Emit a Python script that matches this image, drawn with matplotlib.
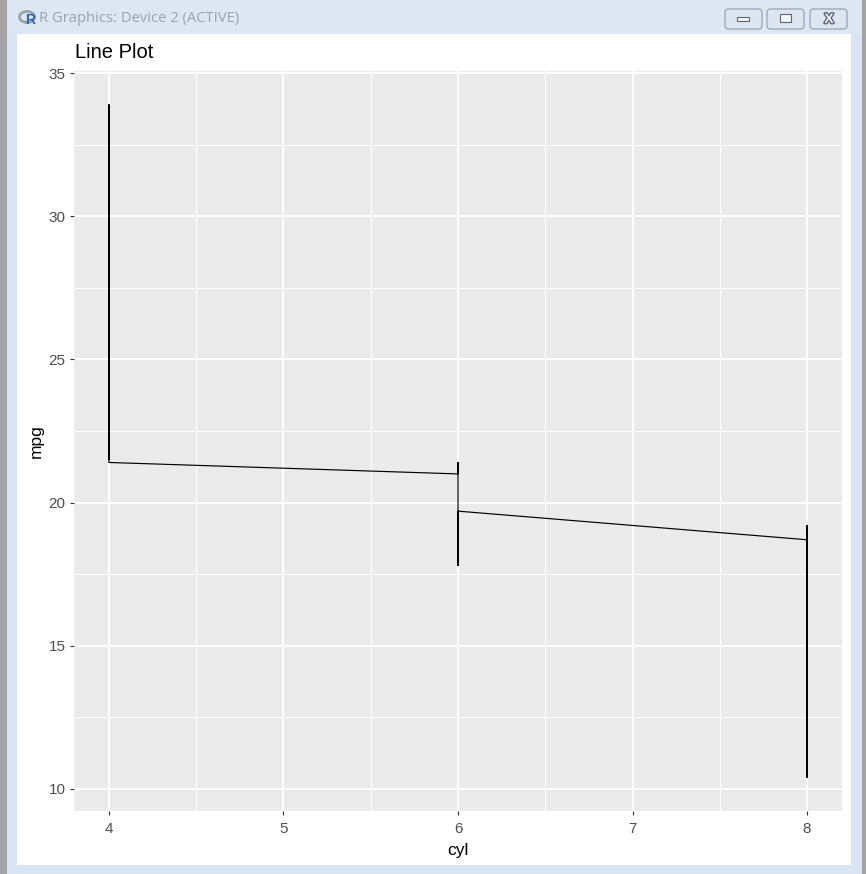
import numpy as np
import matplotlib
matplotlib.use("Agg")
import matplotlib.pyplot as plt
import matplotlib.patheffects as pe
from matplotlib.patches import Rectangle, FancyBboxPatch, Ellipse
from matplotlib.ticker import MultipleLocator

# mtcars, in dataset row order
cyl = [6, 6, 4, 6, 8, 6, 8, 4, 4, 6, 6, 8, 8, 8, 8, 8, 8, 4, 4, 4, 4, 8, 8, 8, 8, 4, 4, 4, 8, 6, 8, 4]
mpg = [21.0, 21.0, 22.8, 21.4, 18.7, 18.1, 14.3, 24.4, 22.8, 19.2, 17.8, 16.4, 17.3, 15.2, 10.4, 10.4,
       14.7, 32.4, 30.4, 33.9, 21.5, 15.5, 15.2, 13.3, 19.2, 27.3, 26.0, 30.4, 15.8, 19.7, 15.0, 21.4]

x_ticks = [4, 5, 6, 7, 8]
y_ticks = [10, 15, 20, 25, 30, 35]

W, H = 866, 874
plt.rcParams['font.family'] = ['Liberation Sans', 'DejaVu Sans']

fig = plt.figure(figsize=(W / 100, H / 100), dpi=100)
fig.patch.set_facecolor('white')


def px_rect(x, y, w, h, color, **kw):
    # rectangle given in screenshot pixels (top-left origin)
    r = Rectangle((x / W, 1 - (y + h) / H), w / W, h / H, transform=fig.transFigure,
                  facecolor=color, edgecolor='none', zorder=-5, **kw)
    fig.patches.append(r)
    return r


# window chrome
px_rect(0, 0, W, H, '#d9e5f2')
px_rect(0, 0, W, 34, '#dce7f3')
px_rect(0, 0, 7, H, '#a3a3a3')
px_rect(862, 0, 4, H, '#a3a3a3')
px_rect(17, 34, 834, 831, 'white')

for bx in [725, 767, 810]:
    b = FancyBboxPatch((bx / W, 1 - 29 / H), 37 / W, 20 / H, boxstyle='round,pad=0,rounding_size=0.004',
                       transform=fig.transFigure, facecolor='#dde6f0', edgecolor='#8d9bb0', lw=0.8)
    fig.patches.append(b)
fig.patches.append(Rectangle((737 / W, 1 - 21 / H), 12 / W, 4 / H, transform=fig.transFigure,
                             facecolor='#f4f6f9', edgecolor='#5b6678', lw=0.8))
fig.patches.append(Rectangle((780 / W, 1 - 22 / H), 11 / W, 8 / H, transform=fig.transFigure,
                             facecolor='#f4f6f9', edgecolor='#5b6678', lw=0.8))
fig.text(829 / W, 1 - 19 / H, 'X', ha='center', va='center', fontsize=10, fontweight='bold',
         color='#eef2f7', path_effects=[pe.withStroke(linewidth=2, foreground='#5b6678')])
fig.patches.append(Ellipse((27 / W, 1 - 17 / H), 15 / W, 11 / H, transform=fig.transFigure,
                           facecolor='none', edgecolor='#9aa0a8', lw=2.0))
fig.text(30 / W, 1 - 20 / H, 'R', ha='center', va='center', fontsize=10, fontweight='bold', color='#2b63b5')
fig.text(39 / W, 1 - 19 / H, 'R Graphics: Device 2 (ACTIVE)', ha='left', va='center',
         fontsize=10.6, color='#9aa3ad', family=['Open Sans', 'DejaVu Sans'])

# plot panel
ax = fig.add_axes([74 / W, 1 - 811 / H, 768 / W, 740 / H])
ax.set_facecolor('#ebebeb')
for s in ax.spines.values():
    s.set_visible(False)

# geom_line: stable sort on x
order = np.argsort(np.array(cyl), kind='stable')
xs = np.array(cyl)[order]
ys = np.array(mpg)[order]
ax.plot(xs, ys, color='black', lw=0.85, zorder=3)

ax.set_xlim(3.8, 8.2)
ax.set_ylim(9.225, 35.075)
ax.set_xticks(x_ticks)
ax.set_yticks(y_ticks)
ax.xaxis.set_minor_locator(MultipleLocator(0.5))
ax.yaxis.set_minor_locator(MultipleLocator(2.5))
ax.grid(which='major', color='white', lw=1.3)
ax.grid(which='minor', color='white', lw=0.65)
ax.set_axisbelow(True)
ax.tick_params(which='major', length=3.2, width=0.8, color='#333333', labelcolor='#4d4d4d',
               labelsize=11, pad=3)
ax.tick_params(axis='x', which='major', pad=5)
ax.tick_params(which='minor', length=0)

ax.set_xlabel('cyl', fontsize=12.5, labelpad=5)
ax.set_ylabel('mpg', fontsize=12.5, labelpad=3)
fig.text(75 / W, 1 - 53 / H, 'Line Plot', ha='left', va='center', fontsize=14.5, color='black')

fig.savefig('out.png', dpi=100)
